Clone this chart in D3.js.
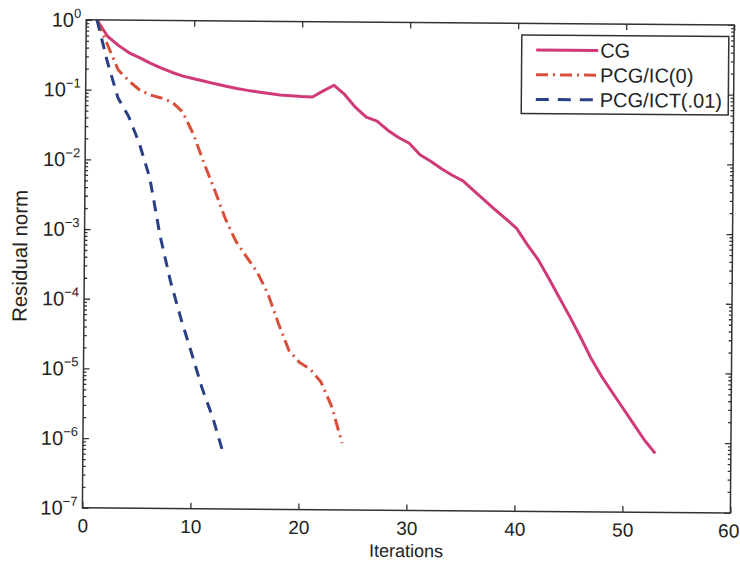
<!DOCTYPE html>
<html>
<head>
<meta charset="utf-8">
<script src="https://cdn.jsdelivr.net/npm/d3@7"></script>
<style>
  body { margin: 0; background: #fff; }
  svg { font-family: "Liberation Sans", Arial, sans-serif; }
</style>
</head>
<body>
<svg id="chart" width="740" height="561"></svg>
<script>
// residual norm per iteration
var cgIter = d3.range(1, 54);
var cgRes = [1, 0.58, 0.434, 0.341, 0.289, 0.242, 0.207, 0.180, 0.160, 0.147,
    0.136, 0.125, 0.116, 0.108, 0.1016, 0.0966, 0.0918, 0.0877, 0.0859, 0.0841,
    0.083, 0.102, 0.123, 0.0903, 0.0595, 0.0433, 0.0381, 0.0283, 0.0223, 0.01845,
    0.01265, 0.01026, 0.00801, 0.0065, 0.0054, 0.00393, 0.00288, 0.0021, 0.00156, 0.00114,
    6.7e-4, 4.13e-4, 2.23e-4, 1.175e-4, 6.23e-5, 3.18e-5, 1.58e-5, 8.7e-6, 5.14e-6, 3.06e-6,
    1.82e-6, 1.08e-6, 7.0e-7];

var icIter = d3.range(1, 25);
var icRes = [1, 0.438, 0.1925, 0.134, 0.100, 0.085, 0.0772, 0.0678, 0.0489, 0.0237,
    0.00912, 0.0038, 0.00149, 7.03e-4, 4.18e-4, 2.54e-4, 1.26e-4, 4.72e-5, 1.92e-5, 1.29e-5,
    1.035e-5, 6.78e-6, 3.05e-6, 9.1e-7];

var ictIter = d3.range(1, 14);
var ictRes = [1, 0.248, 0.0766, 0.0414, 0.0173, 0.00548, 8.09e-4, 1.80e-4, 5.22e-5, 1.70e-5,
    5.34e-6, 2.05e-6, 6.3e-7];

var seriesNames = ["CG", "PCG/IC(0)", "PCG/ICT(.01)"];
var seriesColors = ["#d13a78", "#d9503a", "#2b3f86"];
var seriesDash = [null, "12,5,2,5", "11,8"];
var legendDash = [null, "12,5,2,5", "13,9"];

var xTicks = [0, 10, 20, 30, 40, 50, 60];
var yExps = [0, -1, -2, -3, -4, -5, -6, -7];

var svg = d3.select("svg#chart");
var margin = {left: 84.3, top: 22.4, right: 732.3, bottom: 510.4};

var x = d3.scaleLinear().domain([0, 60]).range([margin.left, margin.right]);
var y = d3.scaleLog().domain([1e-7, 1]).range([margin.bottom, margin.top]);

svg.append("rect").attr("width", 740).attr("height", 561).attr("fill", "#fff");

svg.append("defs").append("clipPath").attr("id", "plotclip")
    .append("rect")
    .attr("x", margin.left).attr("y", margin.top)
    .attr("width", margin.right - margin.left)
    .attr("height", margin.bottom - margin.top);

// the scanned figure sits slightly tilted
var cx = (margin.left + margin.right) / 2, cy = (margin.top + margin.bottom) / 2;
var g = svg.append("g").attr("transform", "rotate(0.45," + cx + "," + cy + ")");

var axisColor = "#333";
var textColor = "#222";

// minor + major y ticks on left and right, pointing inward
var majorVals = yExps.map(e => Math.pow(10, e));
var minorVals = [];
yExps.slice(0, -1).forEach(function(e) {
    for (var m = 2; m <= 9; m++) minorVals.push(m * Math.pow(10, e - 1));
});

g.append("g").attr("transform", "translate(" + margin.left + ",0)")
    .call(d3.axisLeft(y).tickValues(majorVals).tickSizeInner(-6).tickSizeOuter(0).tickFormat(""));
g.append("g").attr("transform", "translate(" + margin.left + ",0)")
    .call(d3.axisLeft(y).tickValues(minorVals).tickSizeInner(-3).tickSizeOuter(0).tickFormat(""));
g.append("g").attr("transform", "translate(" + margin.right + ",0)")
    .call(d3.axisRight(y).tickValues(majorVals).tickSizeInner(-6).tickSizeOuter(0).tickFormat(""));
g.append("g").attr("transform", "translate(" + margin.right + ",0)")
    .call(d3.axisRight(y).tickValues(minorVals).tickSizeInner(-3).tickSizeOuter(0).tickFormat(""));

var xBottom = g.append("g").attr("transform", "translate(0," + margin.bottom + ")")
    .call(d3.axisBottom(x).tickValues(xTicks).tickSizeInner(-6).tickSizeOuter(0).tickPadding(11));
g.append("g").attr("transform", "translate(0," + margin.top + ")")
    .call(d3.axisTop(x).tickValues(xTicks).tickSizeInner(-6).tickSizeOuter(0).tickFormat(""));

g.selectAll(".domain").attr("stroke", "none");
g.selectAll(".tick line").attr("stroke", axisColor).attr("stroke-width", 1.3);
xBottom.selectAll("text")
    .attr("font-size", 19).attr("fill", textColor)
    .attr("font-family", "Liberation Sans, Arial, sans-serif")
    .attr("dx", d => d === 60 ? -2 : 0);

// y tick labels: 10 with superscript exponent
var yLab = g.append("g");
yExps.forEach(function(e) {
    var t = yLab.append("text")
        .attr("x", margin.left - 5)
        .attr("y", y(Math.pow(10, e)) + 7)
        .attr("text-anchor", "end")
        .attr("font-size", 20)
        .attr("fill", textColor);
    t.append("tspan").text("10");
    t.append("tspan").attr("font-size", 13).attr("dy", -9).text(e === 0 ? "0" : "\u2212" + (-e));
});

// data lines
var line = d3.line().x(d => x(d[0])).y(d => y(d[1]));
var plot = g.append("g").attr("clip-path", "url(#plotclip)");
var series = [d3.zip(cgIter, cgRes), d3.zip(icIter, icRes), d3.zip(ictIter, ictRes)];
series.forEach(function(s, i) {
    plot.append("path")
        .datum(s)
        .attr("d", line)
        .attr("fill", "none")
        .attr("stroke", seriesColors[i])
        .attr("stroke-width", 3)
        .attr("stroke-dasharray", seriesDash[i])
        .attr("stroke-linejoin", "round");
});

// box
g.append("rect")
    .attr("x", margin.left).attr("y", margin.top)
    .attr("width", margin.right - margin.left)
    .attr("height", margin.bottom - margin.top)
    .attr("fill", "none").attr("stroke", axisColor).attr("stroke-width", 1.5);

// axis labels
g.append("text")
    .attr("x", cx)
    .attr("y", 557)
    .attr("text-anchor", "middle")
    .attr("font-size", 18)
    .attr("fill", textColor)
    .text("Iterations");

g.append("text")
    .attr("transform", "translate(27,259)rotate(-90)")
    .attr("text-anchor", "middle")
    .attr("font-size", 20.5)
    .attr("fill", textColor)
    .text("Residual norm");

// legend
var legend = g.append("g");
legend.append("rect")
    .attr("x", 520).attr("y", 34).attr("width", 207).attr("height", 78.5)
    .attr("fill", "#fff").attr("stroke", axisColor).attr("stroke-width", 1.5);
seriesNames.forEach(function(name, i) {
    var ly = 49 + i * 24.7;
    legend.append("line")
        .attr("x1", 534.5).attr("x2", 596.5).attr("y1", ly).attr("y2", ly)
        .attr("stroke", seriesColors[i]).attr("stroke-width", 3)
        .attr("stroke-dasharray", legendDash[i]);
    legend.append("text")
        .attr("x", 598.5).attr("y", ly + 7)
        .attr("font-size", 20).attr("fill", textColor)
        .text(name);
});
</script>
</body>
</html>
